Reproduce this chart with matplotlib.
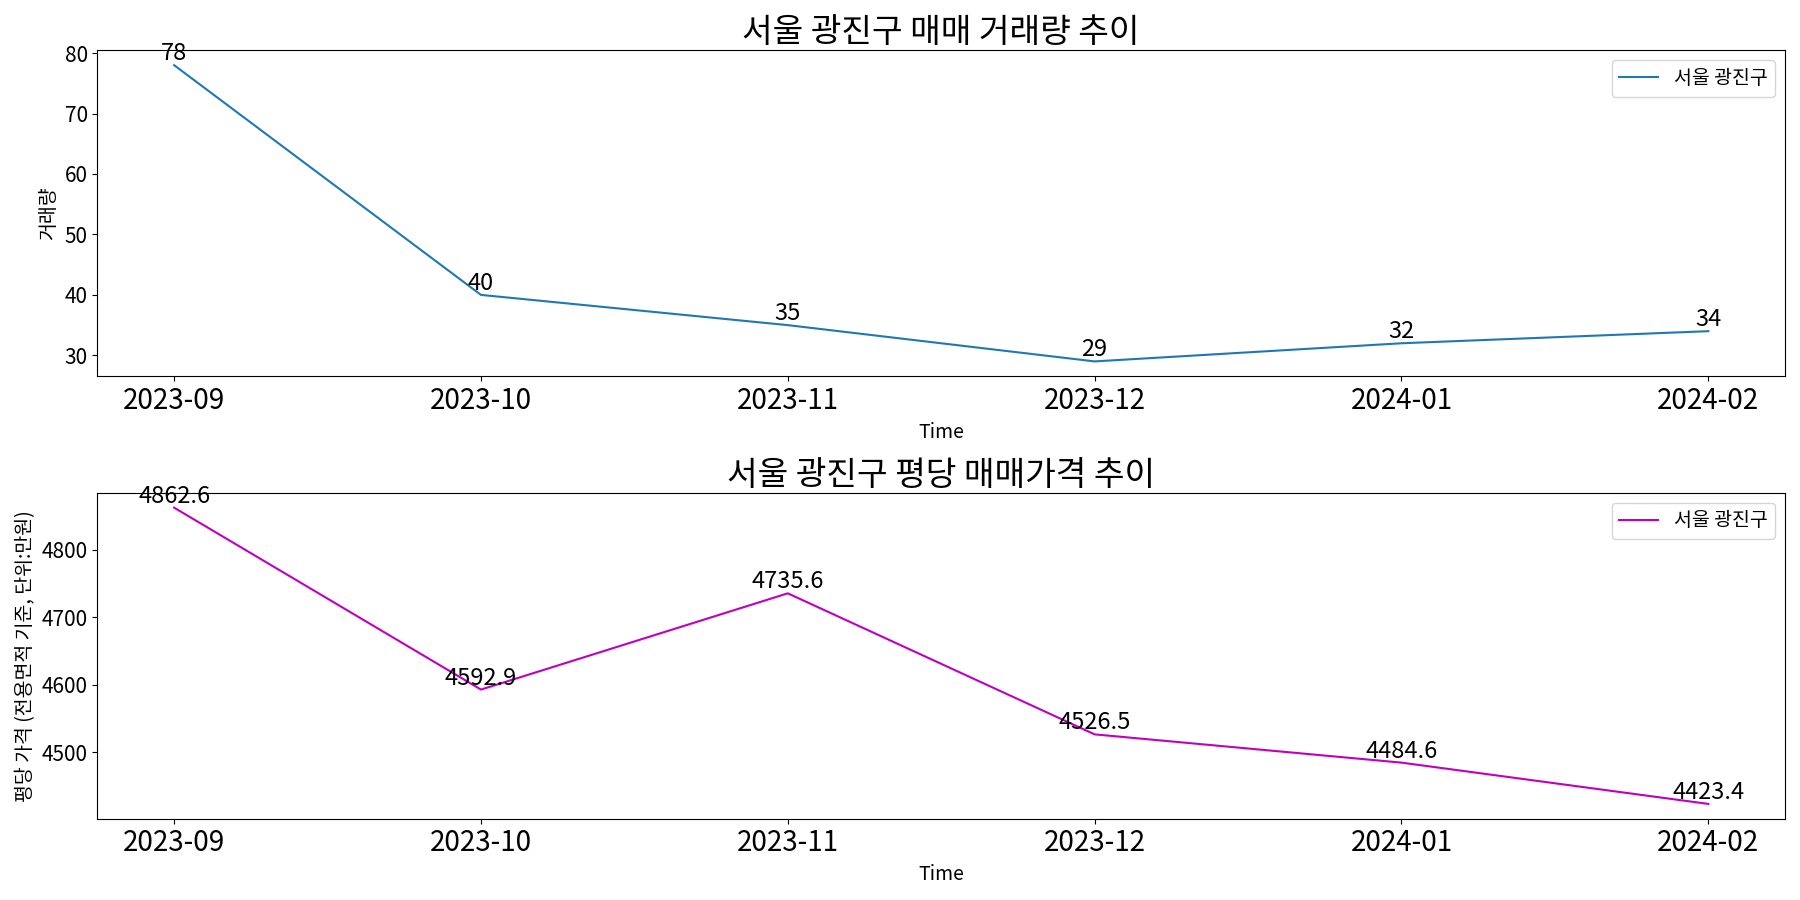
import matplotlib
matplotlib.use("Agg")
import matplotlib.pyplot as plt

plt.rcParams["font.family"] = ["Noto Sans CJK KR", "Noto Sans CJK JP", "Noto Sans CJK SC",
                               "Noto Sans CJK TC", "DejaVu Sans"]
plt.rcParams["axes.unicode_minus"] = False

months = ["2023-09", "2023-10", "2023-11", "2023-12", "2024-01", "2024-02"]
volume = [78, 40, 35, 29, 32, 34]
price = [4862.6, 4592.9, 4735.6, 4526.5, 4484.6, 4423.4]
region = "서울 광진구"

fig, (ax1, ax2) = plt.subplots(2, 1, figsize=(18, 9), dpi=100)

ax1.plot(months, volume, color="#1f77b4", label=region)
for x, y in zip(months, volume):
    ax1.text(x, y, f"{y}", ha="center", va="bottom", fontsize=17)
ax1.set_title(f"{region} 매매 거래량 추이", fontsize=24)
ax1.set_xlabel("Time", fontsize=14)
ax1.set_ylabel("거래량", fontsize=14)
ax1.tick_params(axis="x", labelsize=20)
ax1.tick_params(axis="y", labelsize=15)
ax1.legend(loc="upper right", fontsize=14)

ax2.plot(months, price, color="m", label=region)
for x, y in zip(months, price):
    ax2.text(x, y, f"{y}", ha="center", va="bottom", fontsize=17)
ax2.set_title(f"{region} 평당 매매가격 추이", fontsize=24)
ax2.set_xlabel("Time", fontsize=14)
ax2.set_ylabel("평당 가격 (전용면적 기준, 단위:만원)", fontsize=14)
ax2.tick_params(axis="x", labelsize=20)
ax2.tick_params(axis="y", labelsize=15)
ax2.legend(loc="upper right", fontsize=14)

plt.tight_layout()
plt.savefig("out.png")
